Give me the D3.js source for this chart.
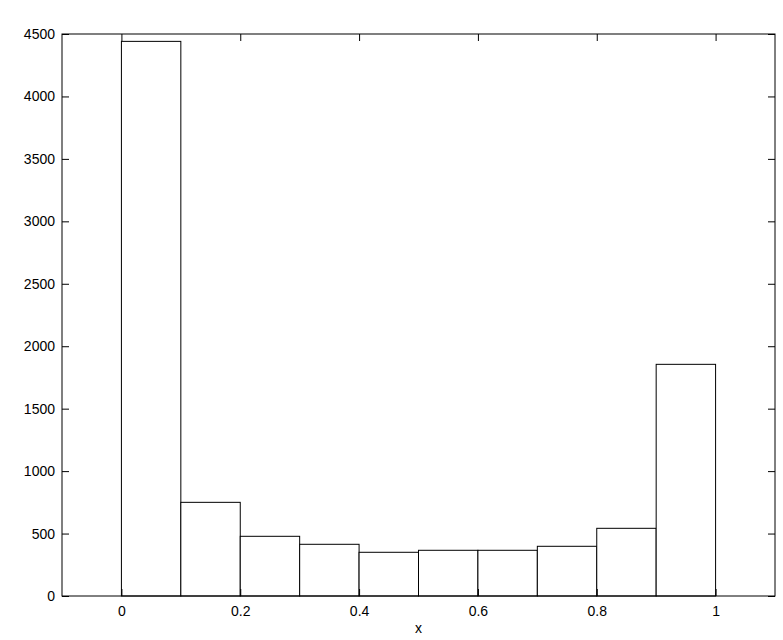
<!DOCTYPE html>
<html>
<head>
<meta charset="utf-8">
<script src="https://cdnjs.cloudflare.com/ajax/libs/d3/7.8.5/d3.min.js"></script>
<style>
  body { margin: 0; background: #fff; }
  svg text { font-family: "Liberation Sans", Arial, sans-serif; font-size: 14px; fill: #000; }
</style>
</head>
<body>
<svg id="chart" width="783" height="640"></svg>
<script>
// bin left edges and counts
var binStart = [0, 0.1, 0.2, 0.3, 0.4, 0.5, 0.6, 0.7, 0.8, 0.9];
var counts = [4441, 750, 478, 414, 350, 366, 366, 398, 542, 1855];
var binWidth = 0.1;
var xTicks = [0, 0.2, 0.4, 0.6, 0.8, 1];
var yTicks = [0, 500, 1000, 1500, 2000, 2500, 3000, 3500, 4000, 4500];

var margin = {top: 34, right: 8, bottom: 44, left: 62};
var width = 783 - margin.left - margin.right,
    height = 640 - margin.top - margin.bottom;

var x = d3.scaleLinear()
    .domain([-0.1, 1.1])
    .range([0, width]);

var y = d3.scaleLinear()
    .domain([0, 4500])
    .range([height, 0]);

var svg = d3.select("#chart")
  .append("g")
    .attr("transform", "translate(" + margin.left + "," + margin.top + ")");

// bars
svg.selectAll("rect.bar")
    .data(counts)
  .enter().append("rect")
    .attr("class", "bar")
    .attr("x", function(d, i) { return x(binStart[i]); })
    .attr("y", function(d) { return y(d); })
    .attr("width", function(d, i) { return x(binStart[i] + binWidth) - x(binStart[i]); })
    .attr("height", function(d) { return height - y(d); })
    .attr("fill", "#fff")
    .attr("stroke", "#000")
    .attr("stroke-width", 1);

// axes, ticks point inward
var fmt = function(d) { return String(d); };
svg.append("g")
    .attr("transform", "translate(0," + height + ")")
    .call(d3.axisBottom(x).tickValues(xTicks).tickSizeInner(-7).tickSizeOuter(0).tickPadding(10).tickFormat(fmt));
svg.append("g")
    .call(d3.axisTop(x).tickValues(xTicks).tickSizeInner(-7).tickSizeOuter(0).tickFormat(""));
svg.append("g")
    .call(d3.axisLeft(y).tickValues(yTicks).tickSizeInner(-7).tickSizeOuter(0).tickPadding(7).tickFormat(fmt));
svg.append("g")
    .attr("transform", "translate(" + width + ",0)")
    .call(d3.axisRight(y).tickValues(yTicks).tickSizeInner(-7).tickSizeOuter(0).tickFormat(""));

svg.selectAll(".domain").remove();
svg.selectAll(".tick line").attr("stroke", "#000");
svg.selectAll(".tick text").style("font-size", "14px").attr("font-family", null);

// box
svg.append("rect")
    .attr("width", width)
    .attr("height", height)
    .attr("fill", "none")
    .attr("stroke", "#000");

svg.append("text")
    .attr("x", x(0.5))
    .attr("y", height + 37)
    .attr("text-anchor", "middle")
    .text("x");
</script>
</body>
</html>
